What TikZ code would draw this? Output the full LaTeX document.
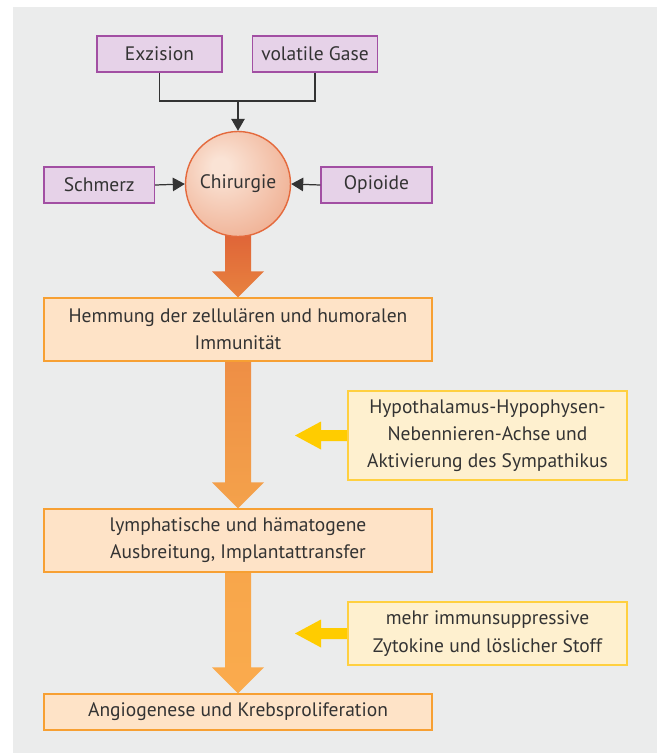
\documentclass[tikz,border=0pt]{standalone}
\usepackage{fontspec}
\setmainfont{PT Sans}
\usetikzlibrary{arrows.meta,positioning,calc,backgrounds}
\definecolor{panel}{HTML}{EBECEC}
\definecolor{ink}{HTML}{333333}
\definecolor{cInF}{HTML}{E6D2E8}
\definecolor{cInL}{HTML}{A24FA3}
\definecolor{cOpF}{HTML}{FEE3C7}
\definecolor{cOpL}{HTML}{F7A033}
\definecolor{cYeF}{HTML}{FEF0CF}
\definecolor{cYeL}{HTML}{FFD040}
\definecolor{cYeA}{HTML}{FFCC00}
\definecolor{cChL}{HTML}{E46A3D}
\definecolor{cChI}{HTML}{FAE3D5}
\definecolor{cChO}{HTML}{E88A62}
\definecolor{cArA}{HTML}{DF6538}
\definecolor{cArB}{HTML}{E8823F}
\definecolor{cArC}{HTML}{EE8E45}
\definecolor{cArD}{HTML}{F4A24B}
\definecolor{cArE}{HTML}{F8A64B}
\definecolor{cArF}{HTML}{FAAB4D}
\pgfdeclareradialshading{chirball}{\pgfpoint{-9bp}{9bp}}{%
  color(0bp)=(cChI); color(4bp)=(cChI); color(56bp)=(cChO); color(70bp)=(cChO)}
% fat shaded arrow: from, tip, top colour, bottom colour
\newcommand{\fatarrow}[4]{%
  \shade[top color=#3,bottom color=#4]
    ($(#1)+(-0.26,0.05)$) -- ($(#2)+(-0.26,0.52)$) -- ($(#2)+(-0.52,0.52)$) --
    (#2) -- ($(#2)+(0.52,0.52)$) -- ($(#2)+(0.26,0.52)$) --
    ($(#1)+(0.26,0.05)$) -- cycle;}
% yellow side arrow: from box, tip
\newcommand{\sidearrow}[2]{%
  \fill[cYeA]
    ($(#1)+(0.02,0.11)$) -- ($(#2)+(0.52,0.11)$) -- ($(#2)+(0.52,0.28)$) --
    (#2) -- ($(#2)+(0.52,-0.28)$) -- ($(#2)+(0.52,-0.11)$) --
    ($(#1)+(0.02,-0.11)$) -- cycle;}

\begin{document}
\begin{tikzpicture}[x=1cm,y=1cm,
  txt/.style={font=\fontsize{11.1}{15.5}\selectfont,text=ink,align=center,inner sep=2pt},
  inbox/.style={txt,draw=cInL,fill=cInF,line width=0.8pt,minimum height=0.72cm},
  opbox/.style={txt,draw=cOpL,fill=cOpF,line width=0.8pt,minimum width=7.76cm},
  yebox/.style={txt,draw=cYeL,fill=cYeF,line width=0.8pt,minimum width=5.58cm},
  chir/.style={txt,circle,draw=cChL,line width=0.8pt,shading=chirball,minimum size=2.1cm},
  wire/.style={draw=ink,line width=0.7pt},
  feed/.style={wire,-{Triangle[length=0.24cm,width=0.27cm]}}]

  \useasboundingbox (0,0) rectangle (13.14,-15.06);

  \node[inbox,minimum width=2.50cm] (exz) at (3.19,-1.08) {Exzision};
  \node[inbox,minimum width=2.51cm] (gas) at (6.30,-1.08) {volatile Gase};
  \node[inbox,minimum width=2.21cm] (pain) at (1.985,-3.70) {Schmerz};
  \node[inbox,minimum width=2.22cm] (opi) at (7.53,-3.70) {Opioide};
  \node[chir] (chir) at (4.76,-3.68) {Chirurgie};

  \node[opbox,minimum height=1.26cm] (immun) at (4.76,-6.59)
    {Hemmung der zellulären und humoralen\\Immunität};
  \node[opbox,minimum height=1.26cm] (spread) at (4.76,-10.81)
    {lymphatische und hämatogene\\Ausbreitung, Implantattransfer};
  \node[opbox,minimum height=0.72cm] (angio) at (4.76,-14.24)
    {Angiogenese und Krebsproliferation};

  \node[yebox,minimum height=1.78cm] (hpa) at (9.75,-8.71)
    {Hypothalamus-Hypophysen-\\Nebennieren-Achse und\\Aktivierung des Sympathikus};
  \node[yebox,minimum height=1.26cm] (cyto) at (9.75,-12.67)
    {mehr immunsuppressive\\Zytokine und löslicher Stoff};

  \coordinate (fork) at (4.76,-2.02);
  \draw[wire] (exz.south) |- (fork) -| (gas.south);
  \draw[feed] (fork) -- (chir.north);
  \draw[feed] (pain.east) -- (chir.west);
  \draw[feed] (opi.west) -- (chir.east);

  \coordinate (hpaTip) at (5.90,-8.71);
  \coordinate (cytoTip) at (5.90,-12.67);

  \begin{scope}[on background layer]
    \fill[panel] (0.26,-0.14) rectangle (13.14,-15.06);
    \fatarrow{chir.south}{immun.north}{cArA}{cArB}
    \fatarrow{immun.south}{spread.north}{cArC}{cArD}
    \fatarrow{spread.south}{angio.north}{cArE}{cArF}
    \sidearrow{hpa.west}{hpaTip}
    \sidearrow{cyto.west}{cytoTip}
  \end{scope}
\end{tikzpicture}
\end{document}
